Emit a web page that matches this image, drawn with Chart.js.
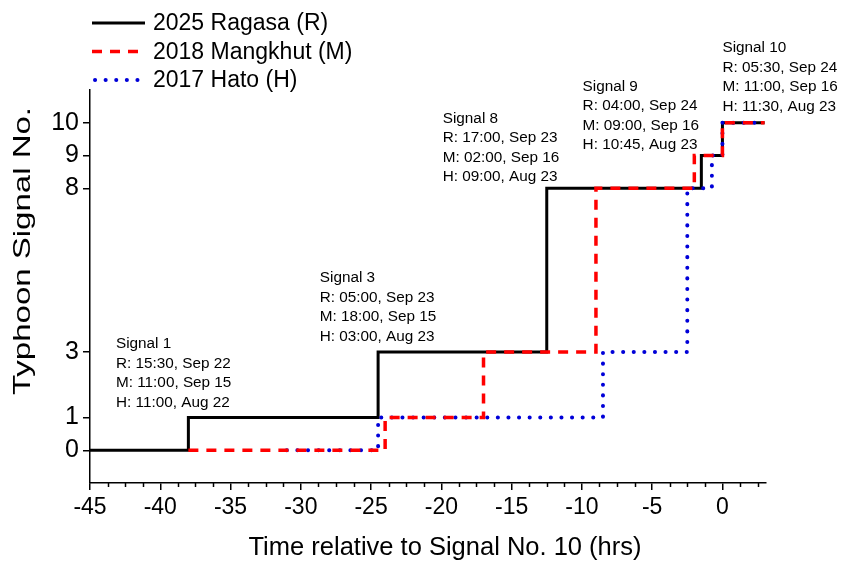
<!DOCTYPE html>
<html>
<head>
<meta charset="utf-8">
<script src="https://cdn.jsdelivr.net/npm/chart.js@4"></script>
<style>
  body { margin: 0; background: #fff; }
  #wrap { width: 842px; height: 564px; }
</style>
</head>
<body>
<div id="wrap"><canvas id="myChart" width="842" height="564"></canvas></div>
<script>
//DATOS
const seriesNames = ["2025 Ragasa (R)", "2018 Mangkhut (M)", "2017 Hato (H)"];
// hours relative to signal 10 where the signal changes, and the new signal
const ragasaX = [-45, -38, -24.5, -12.5, -1.5, 0, 3];
const ragasaY = [0, 1, 3, 8, 9, 10, 10];
const mangkhutX = [-38, -24, -17, -9, -2, 0, 3];
const mangkhutY = [0, 1, 3, 8, 9, 10, 10];
const hatoX = [-31, -24.5, -8.5, -2.5, -0.75, 0, 3];
const hatoY = [0, 1, 3, 8, 9, 10, 10];

const xTicks = [-45, -40, -35, -30, -25, -20, -15, -10, -5, 0];
const yTicks = [0, 1, 3, 8, 9, 10];

const notes = [
  ["Signal 1", "R: 15:30, Sep 22", "M: 11:00, Sep 15", "H: 11:00, Aug 22"],
  ["Signal 3", "R: 05:00, Sep 23", "M: 18:00, Sep 15", "H: 03:00, Aug 23"],
  ["Signal 8", "R: 17:00, Sep 23", "M: 02:00, Sep 16", "H: 09:00, Aug 23"],
  ["Signal 9", "R: 04:00, Sep 24", "M: 09:00, Sep 16", "H: 10:45, Aug 23"],
  ["Signal 10", "R: 05:30, Sep 24", "M: 11:00, Sep 16", "H: 11:30, Aug 23"],
];
// where each text block sits (data coords of first line)
const notePos = [[-43.15, 3.30], [-28.65, 5.32], [-19.9, 10.19], [-9.95, 11.17], [0, 12.35]];

//FUNCIONES
const FONT = "'Liberation Sans', Arial, sans-serif";
const Y_TITLE = "Typhoon Signal No.";
const X_TITLE = "Time relative to Signal No. 10 (hrs)";

function pts(xs, ys) {
  return xs.map((x, i) => ({ x: x, y: ys[i] }));
}

const estilos = [
  { color: "#000000", width: 3, dash: [], cap: "butt" },
  { color: "#ff0000", width: 3.5, dash: [10, 8], cap: "butt" },
  { color: "#0000d8", width: 4, dash: [0.1, 10.5], cap: "round" },
];

const extras = {
  id: "extras",
  afterDraw(chart) {
    const ctx = chart.ctx;
    const xs = chart.scales.x, ys = chart.scales.y;
    ctx.save();
    // minor ticks on x
    ctx.strokeStyle = "#000";
    ctx.lineWidth = 1.5;
    const bottom = chart.chartArea.bottom;
    for (let v = -45; v <= xs.max + 1e-6; v += 1.25) {
      if (Math.abs(v % 5) < 1e-6) continue;
      const px = Math.round(xs.getPixelForValue(v)) + 0.5;
      ctx.beginPath();
      ctx.moveTo(px, bottom);
      ctx.lineTo(px, bottom + 4);
      ctx.stroke();
    }
    // axis titles
    ctx.fillStyle = "#000";
    ctx.textAlign = "center";
    ctx.textBaseline = "middle";
    ctx.font = "25.5px " + FONT;
    ctx.fillText(X_TITLE, 445, 548);
    ctx.font = "24px " + FONT;
    const w = ctx.measureText(Y_TITLE).width;
    ctx.save();
    ctx.translate(23, 251);
    ctx.rotate(-Math.PI / 2);
    ctx.scale(288 / w, 1); // stretched along its length like the original
    ctx.fillText(Y_TITLE, 0, 0);
    ctx.restore();
    // text blocks
    ctx.font = "15.3px " + FONT;
    ctx.textAlign = "left";
    notes.forEach((lines, i) => {
      const x0 = xs.getPixelForValue(notePos[i][0]);
      const y0 = ys.getPixelForValue(notePos[i][1]) + 2;
      lines.forEach((t, j) => ctx.fillText(t, x0, y0 + j * 19.5));
    });
    // legend
    ctx.font = "23px " + FONT;
    seriesNames.forEach((name, i) => {
      const y = 23 + i * 28.5;
      const e = estilos[i];
      ctx.strokeStyle = e.color;
      ctx.lineWidth = e.width;
      ctx.setLineDash(e.dash);
      ctx.lineCap = e.cap;
      ctx.beginPath();
      ctx.moveTo(i === 2 ? 95 : 92, y);
      ctx.lineTo(145, y);
      ctx.stroke();
      ctx.setLineDash([]);
      ctx.fillStyle = "#000";
      ctx.fillText(name, 153, y + 1);
    });
    ctx.restore();
  },
};

function dataset(label, data, i, order) {
  const e = estilos[i];
  return {
    label: label,
    data: data,
    stepped: true,
    borderColor: e.color,
    borderWidth: e.width,
    borderDash: e.dash,
    borderCapStyle: e.cap,
    pointRadius: 0,
    fill: false,
    order: order,
  };
}

const config = {
  type: "line",
  data: {
    datasets: [
      dataset(seriesNames[0], pts(ragasaX, ragasaY), 0, 2),
      dataset(seriesNames[1], pts(mangkhutX, mangkhutY), 1, 0),
      dataset(seriesNames[2], pts(hatoX, hatoY), 2, 1),
    ],
  },
  plugins: [extras],
  options: {
    responsive: false,
    animation: false,
    layout: { padding: { top: 90, right: 76, left: 0, bottom: 0 } },
    plugins: { legend: { display: false }, tooltip: { enabled: false } },
    scales: {
      x: {
        type: "linear",
        min: -45,
        max: 3.1,
        afterBuildTicks: (s) => { s.ticks = xTicks.map((v) => ({ value: v })); },
        afterFit: (s) => { s.height = 81; },
        grid: { drawOnChartArea: false, drawTicks: true, tickLength: 7, color: "#000", lineWidth: 1.5 },
        border: { display: true, color: "#000", width: 1.5 },
        ticks: { color: "#000", font: { family: FONT, size: 23 }, padding: 4 },
        title: { display: false },
      },
      y: {
        type: "linear",
        min: -1,
        max: 11,
        afterBuildTicks: (s) => { s.ticks = yTicks.map((v) => ({ value: v })); },
        afterFit: (s) => { s.width = 90; },
        grid: { drawOnChartArea: false, drawTicks: true, tickLength: 7, color: "#000", lineWidth: 1.5 },
        border: { display: true, color: "#000", width: 1.5 },
        ticks: { color: "#000", font: { family: FONT, size: 25 }, padding: 4 },
        title: { display: false },
      },
    },
  },
};

//EVENTOS
const myChart = new Chart(document.getElementById("myChart"), config);
</script>
</body>
</html>
